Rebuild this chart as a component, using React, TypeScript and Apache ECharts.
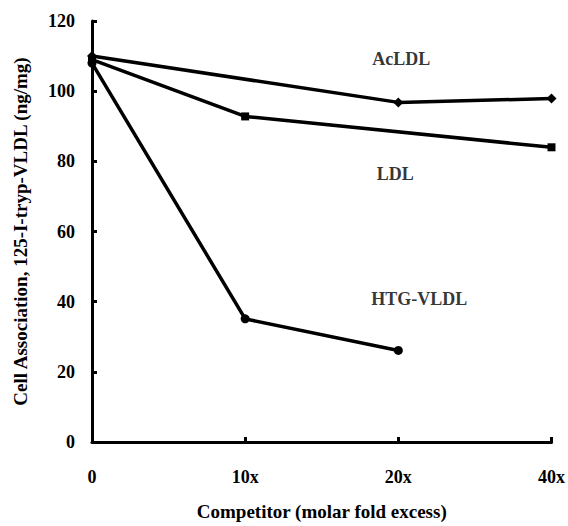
import React, { useEffect, useRef } from "react";
import * as echarts from "echarts";

const categories = ["0", "10x", "20x", "40x"];
const acLDL = [110, null, 96.8, 97.9];
const ldl = [109, 92.8, null, 84.0];
const htgVLDL = [108, 35.1, 26.1, null];
const yTicks = { min: 0, max: 120, interval: 20 };
const labelNames = ["AcLDL", "LDL", "HTG-VLDL"];
const labelCats = ["20x", "20x", "20x"];
const labelValues = [109.3, 76.4, 40.8];
const labelShiftX = [3, -3, 21];

const FONT = "Liberation Serif";

export default function App() {
  const ref = useRef<HTMLDivElement>(null);
  useEffect(() => {
    if (!ref.current) return;
    const chart = echarts.init(ref.current, null, { renderer: "svg" });
    const lineStyle = { color: "#000", width: 3.5 };
    const mk = (name: string, data: (number | null)[], symbol: string, size: number) => ({
      name,
      type: "line",
      data,
      connectNulls: true,
      symbol,
      symbolSize: size,
      showSymbol: true,
      itemStyle: { color: "#000" },
      lineStyle,
      z: 3,
    });
    chart.setOption({
      animation: false,
      backgroundColor: "#fff",
      textStyle: { fontFamily: FONT },
      grid: { left: 92, right: 15, top: 21, bottom: 78 },
      xAxis: {
        type: "category",
        data: categories,
        boundaryGap: false,
        name: "Competitor (molar fold excess)",
        nameLocation: "middle",
        nameGap: 60,
        nameTextStyle: { fontFamily: FONT, fontWeight: "bold", fontSize: 19, color: "#000" },
        axisLine: { lineStyle: { color: "#000", width: 3 } },
        axisTick: { inside: true, length: 5, lineStyle: { color: "#000", width: 3 } },
        axisLabel: {
          margin: 26,
          fontFamily: FONT,
          fontWeight: "bold",
          fontSize: 18,
          color: "#000",
          showMaxLabel: true,
          alignMaxLabel: "center",
          alignMinLabel: "center",
        },
        splitLine: { show: false },
      },
      yAxis: {
        type: "value",
        min: yTicks.min,
        max: yTicks.max,
        interval: yTicks.interval,
        name: "Cell Association, 125-I-tryp-VLDL (ng/mg)",
        nameLocation: "middle",
        nameGap: 62,
        nameTextStyle: { fontFamily: FONT, fontWeight: "bold", fontSize: 19, color: "#000" },
        axisLine: { show: true, lineStyle: { color: "#000", width: 3 } },
        axisTick: { show: true, inside: true, length: 5, lineStyle: { color: "#000", width: 3 } },
        axisLabel: { margin: 17, fontFamily: FONT, fontWeight: "bold", fontSize: 18, color: "#000" },
        splitLine: { show: false },
      },
      series: [
        mk("AcLDL", acLDL, "diamond", 10),
        mk("LDL", ldl, "rect", 8),
        mk("HTG-VLDL", htgVLDL, "circle", 9),
        {
          type: "scatter",
          data: labelNames.map((n, i) => ({
            value: [labelCats[i], labelValues[i], n],
            label: { offset: [labelShiftX[i], 0] },
          })),
          symbolSize: 0,
          silent: true,
          label: {
            show: true,
            position: "inside",
            formatter: (p: any) => p.value[2],
            fontFamily: FONT,
            fontWeight: "bold",
            fontSize: 18,
            color: "#000",
          },
        },
      ],
    });
    return () => chart.dispose();
  }, []);
  return (
    <div
      ref={ref}
      style={{ position: "fixed", left: 0, top: 0, width: 568, height: 526, background: "#fff" }}
    />
  );
}
